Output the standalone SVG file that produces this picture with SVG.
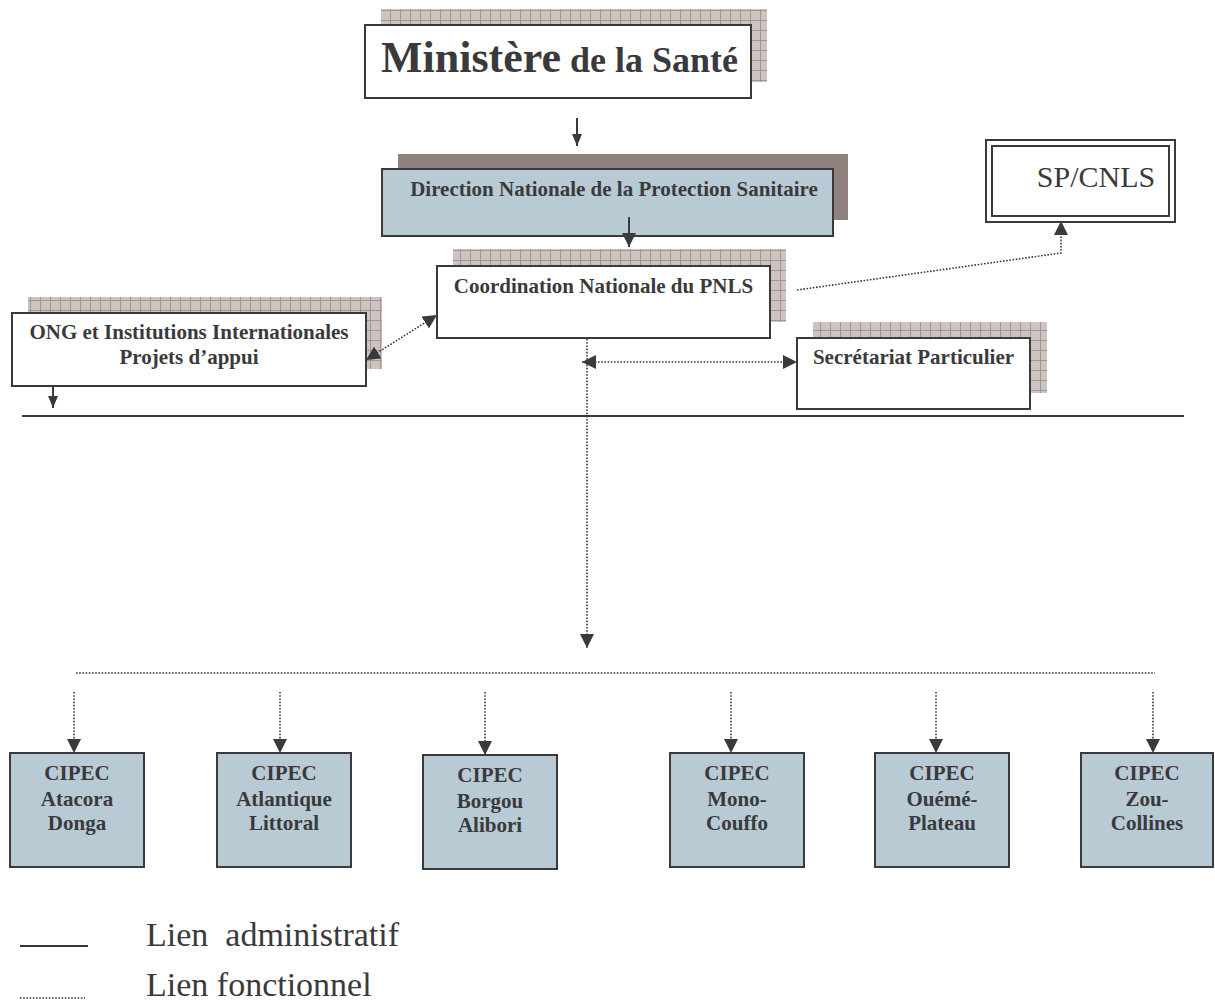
<svg xmlns="http://www.w3.org/2000/svg" width="1215" height="1003" viewBox="0 0 1215 1003">
<style>
.box{fill:#ffffff;stroke:#3a3a3c;stroke-width:2}
.blue{fill:#b8cad4;stroke:#3a3a3c;stroke-width:2}
.hatch{fill:url(#grid)}
.solidsh{fill:#8e817e}
.t{font-family:"Liberation Serif","Times New Roman",serif;font-weight:bold;fill:#3a3a3c;font-size:21px}
.r{font-family:"Liberation Serif","Times New Roman",serif;fill:#3a3a3c}
.sol{stroke:#3a3a3c;stroke-width:2;fill:none}
.dot{stroke:#3a3a3c;stroke-width:1.6;stroke-dasharray:1.6 1.6;fill:none}
</style>
<defs>
<pattern id="grid" width="10" height="10" patternUnits="userSpaceOnUse">
<rect width="10" height="10" fill="#cdc4c2"/>
<path d="M0,0.5 H10 M0.5,0 V10" stroke="#a09592" stroke-width="1"/>
</pattern>
<marker id="ah" viewBox="0 0 14 14" refX="14" refY="7" markerWidth="14" markerHeight="14" markerUnits="userSpaceOnUse" orient="auto">
<path d="M0,0 L14,7 L0,14 z" fill="#3a3a3c"/>
</marker>
<marker id="ahs" viewBox="0 0 14 14" refX="0" refY="7" markerWidth="14" markerHeight="14" markerUnits="userSpaceOnUse" orient="auto">
<path d="M14,0 L0,7 L14,14 z" fill="#3a3a3c"/>
</marker>
<marker id="ahsm" viewBox="0 0 12 10" refX="12" refY="5" markerWidth="12" markerHeight="10" markerUnits="userSpaceOnUse" orient="auto">
<path d="M0,0 L12,5 L0,10 z" fill="#3a3a3c"/>
</marker>
</defs>

<g id="ministere">
<rect class="hatch" x="381" y="9" width="386" height="73"/>
<rect class="box" x="365" y="25" width="386" height="73"/>
<text class="r" x="381" y="72" font-weight="bold" font-size="44">Ministère<tspan font-size="36"> de la Santé</tspan></text>
</g>

<g id="direction">
<rect class="solidsh" x="398" y="154" width="450" height="66"/>
<rect class="blue" x="382" y="169" width="451" height="67"/>
<text class="t" x="614" y="196" text-anchor="middle">Direction Nationale de la Protection Sanitaire</text>
</g>

<g id="spcnls">
<rect x="986" y="140" width="189" height="82" fill="#ffffff" stroke="#3a3a3c" stroke-width="2"/>
<rect x="992" y="146" width="177" height="70" fill="none" stroke="#3a3a3c" stroke-width="2"/>
<text class="r" x="1096" y="187" text-anchor="middle" font-size="30">SP/CNLS</text>
</g>

<g id="coordination">
<rect class="hatch" x="453" y="249" width="333" height="73"/>
<rect class="box" x="437" y="266" width="333" height="72"/>
<text class="t" x="603.5" y="293" text-anchor="middle">Coordination Nationale du PNLS</text>
</g>

<g id="ong">
<rect class="hatch" x="28" y="297" width="354" height="72"/>
<rect class="box" x="12" y="313" width="354" height="73"/>
<text class="t" x="189" y="339" text-anchor="middle">ONG et Institutions Internationales</text>
<text class="t" x="189" y="364" text-anchor="middle">Projets d’appui</text>
</g>

<g id="secretariat">
<rect class="hatch" x="813" y="322" width="234" height="71"/>
<rect class="box" x="797" y="338" width="233" height="71"/>
<text class="t" x="913.5" y="364" text-anchor="middle">Secrétariat Particulier</text>
</g>

<g id="cipec-atacora">
<rect class="blue" x="10" y="753" width="134" height="114"/>
<text class="t" x="77" y="780" text-anchor="middle">CIPEC</text>
<text class="t" x="77" y="806" text-anchor="middle">Atacora</text>
<text class="t" x="77" y="830" text-anchor="middle">Donga</text>
</g>
<g id="cipec-atlantique">
<rect class="blue" x="217" y="753" width="134" height="114"/>
<text class="t" x="284" y="780" text-anchor="middle">CIPEC</text>
<text class="t" x="284" y="806" text-anchor="middle">Atlantique</text>
<text class="t" x="284" y="830" text-anchor="middle">Littoral</text>
</g>
<g id="cipec-borgou">
<rect class="blue" x="423" y="755" width="134" height="114"/>
<text class="t" x="490" y="782" text-anchor="middle">CIPEC</text>
<text class="t" x="490" y="808" text-anchor="middle">Borgou</text>
<text class="t" x="490" y="832" text-anchor="middle">Alibori</text>
</g>
<g id="cipec-mono">
<rect class="blue" x="670" y="753" width="134" height="114"/>
<text class="t" x="737" y="780" text-anchor="middle">CIPEC</text>
<text class="t" x="737" y="806" text-anchor="middle">Mono-</text>
<text class="t" x="737" y="830" text-anchor="middle">Couffo</text>
</g>
<g id="cipec-oueme">
<rect class="blue" x="875" y="753" width="134" height="114"/>
<text class="t" x="942" y="780" text-anchor="middle">CIPEC</text>
<text class="t" x="942" y="806" text-anchor="middle">Ouémé-</text>
<text class="t" x="942" y="830" text-anchor="middle">Plateau</text>
</g>
<g id="cipec-zou">
<rect class="blue" x="1081" y="753" width="132" height="114"/>
<text class="t" x="1147" y="780" text-anchor="middle">CIPEC</text>
<text class="t" x="1147" y="806" text-anchor="middle">Zou-</text>
<text class="t" x="1147" y="830" text-anchor="middle">Collines</text>
</g>

<g id="connectors">
<line class="sol" x1="577" y1="118" x2="577" y2="146" marker-end="url(#ahsm)"/>
<line class="sol" x1="629" y1="217" x2="629" y2="247" marker-end="url(#ah)"/>
<line class="sol" x1="53" y1="386" x2="53" y2="408" marker-end="url(#ahsm)"/>
<line class="sol" x1="22" y1="416" x2="1184" y2="416"/>
<line class="dot" x1="366" y1="360" x2="437" y2="315" marker-start="url(#ahs)" marker-end="url(#ah)"/>
<polyline class="dot" points="797,290 1061,253 1061,221" marker-end="url(#ah)"/>
<line class="dot" x1="582" y1="362" x2="797" y2="362" marker-start="url(#ahs)" marker-end="url(#ah)"/>
<line class="dot" x1="587" y1="339" x2="587" y2="648" marker-end="url(#ah)"/>
<line class="dot" x1="76" y1="673" x2="1155" y2="673"/>
<line class="dot" x1="74" y1="692" x2="74" y2="753" marker-end="url(#ah)"/>
<line class="dot" x1="280" y1="692" x2="280" y2="753" marker-end="url(#ah)"/>
<line class="dot" x1="485" y1="692" x2="485" y2="755" marker-end="url(#ah)"/>
<line class="dot" x1="731" y1="692" x2="731" y2="753" marker-end="url(#ah)"/>
<line class="dot" x1="936" y1="692" x2="936" y2="753" marker-end="url(#ah)"/>
<line class="dot" x1="1153" y1="692" x2="1153" y2="753" marker-end="url(#ah)"/>
</g>

<g id="legend">
<line class="sol" x1="20" y1="946" x2="88" y2="946"/>
<line class="dot" x1="20" y1="998" x2="85" y2="998" stroke-width="1.2" stroke-dasharray="1.2 1.2"/>
<text class="r" x="146" y="946" font-size="34" style="white-space:pre">Lien  administratif</text>
<text class="r" x="146" y="996" font-size="34">Lien fonctionnel</text>
</g>
</svg>
